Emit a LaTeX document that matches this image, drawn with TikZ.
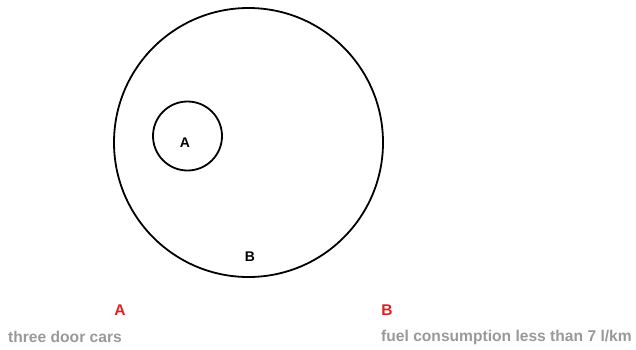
\documentclass[tikz,border=0pt]{standalone}
\usepackage{fontspec}
\setmainfont{Liberation Sans}
\definecolor{labred}{HTML}{E02020}
\definecolor{labgray}{HTML}{999999}
\begin{document}
\begin{tikzpicture}[x=1pt,y=-1pt,
  setcircle/.style={circle,draw=black,line width=1.8pt,inner sep=0pt},
  setlabel/.style={font=\fontsize{14}{16}\selectfont\bfseries,text=black,inner sep=0pt},
  keyhead/.style={font=\fontsize{15.5}{18}\selectfont\bfseries,text=labred,inner sep=0pt},
  keytext/.style={font=\fontsize{15.6}{18}\selectfont\bfseries,text=labgray,inner sep=0pt,anchor=west}]
\useasboundingbox (0,0) rectangle (636,349);
\node[setcircle,minimum size=269pt] (B) at (248.5,142.5) {};
\node[setcircle,minimum size=69pt] (A) at (187.5,136) {};
\node[setlabel] (la) at (185,143) {A};
\node[setlabel] (lb) at (250,257) {B};
\node[keyhead] (ka) at (120,310) {A};
\node[keytext] (ta) at (8,337) {three door cars};
\node[keyhead] (kb) at (387,310) {B};
\node[keytext] (tb) at (381,337) {fuel consumption less than 7 l/km};
\end{tikzpicture}
\end{document}
